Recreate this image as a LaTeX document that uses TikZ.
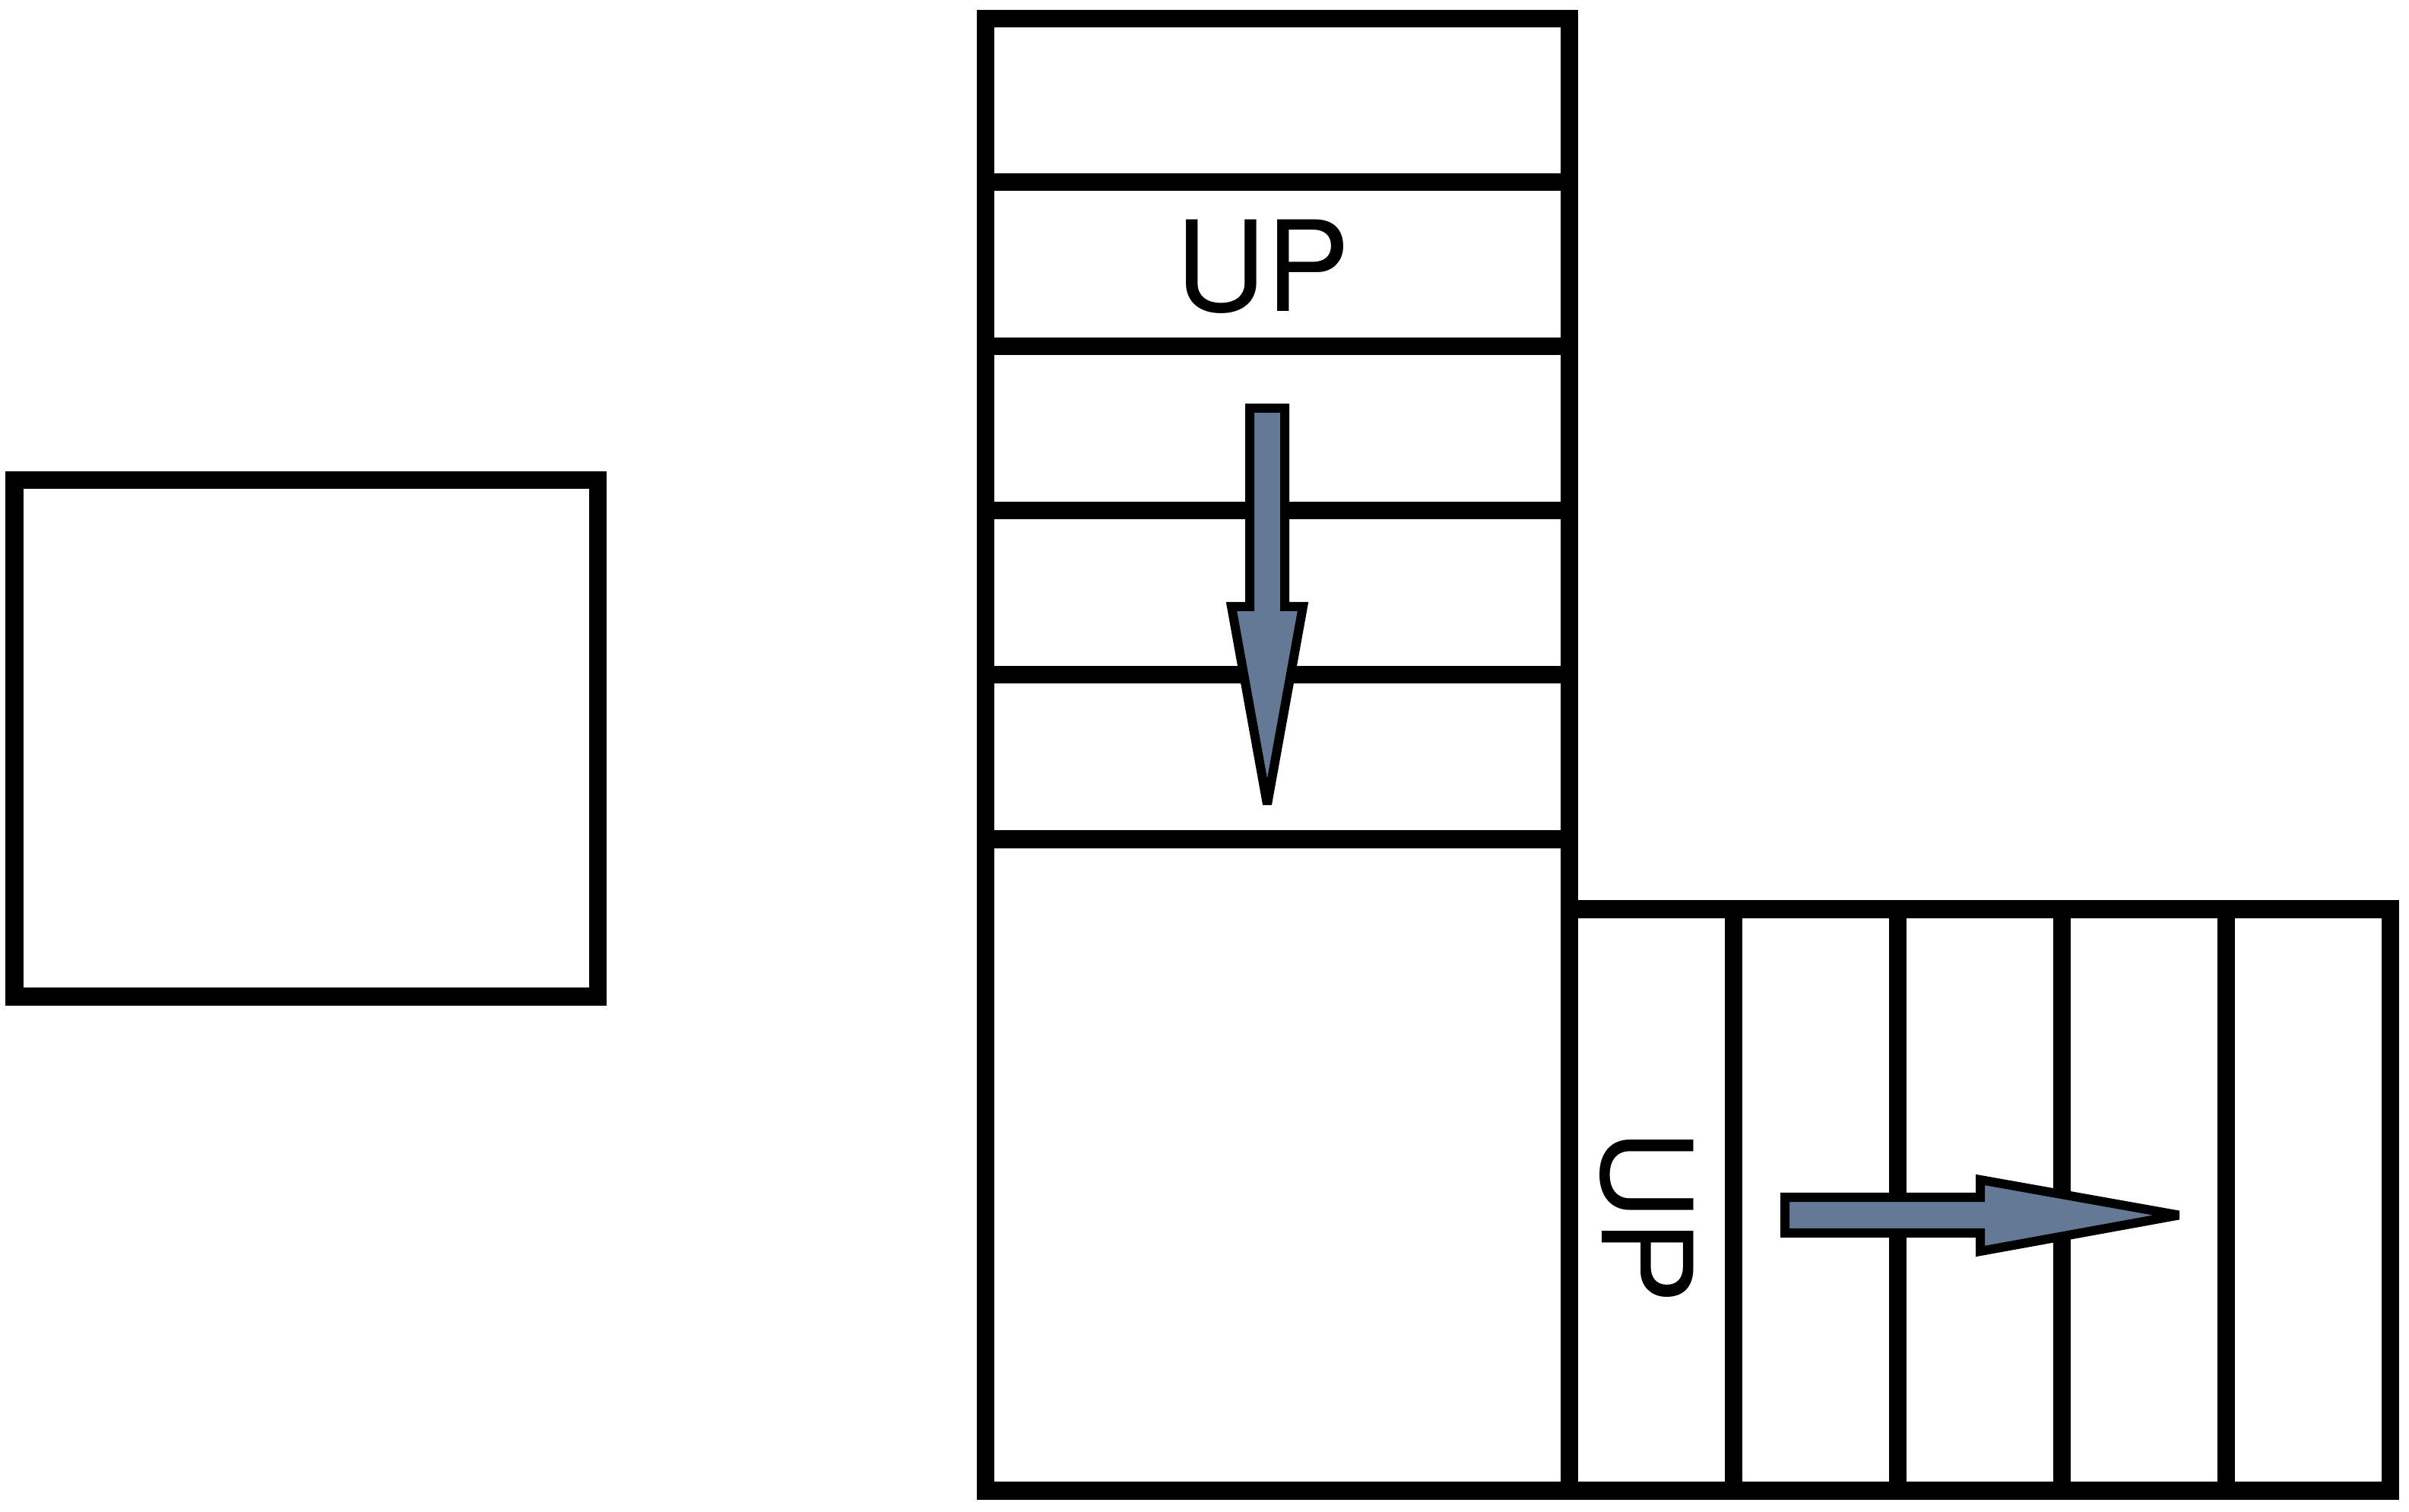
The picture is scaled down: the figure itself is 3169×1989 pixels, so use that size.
\documentclass[tikz,border=0pt]{standalone}
\usepackage{fontspec}
\setmainfont{TeX Gyre Heros}

\tikzset{
    wall/.style={draw, line width=0.23cm, miter limit=3},
    runarrow/.style={draw, line width=0.12cm, miter limit=3, fill={rgb,255:red,100;green,121;blue,150}},
    uplabel/.style={inner sep=0pt, font=\fontsize{47}{50}\selectfont}
}

\begin{document}
\begin{tikzpicture}[x=0.01cm, y=-0.01cm]
        \useasboundingbox (0, 0) rectangle (3169, 1989);

        \draw[wall] (19, 632) rectangle (786, 1311);
        \draw[wall] (1296, 25) rectangle (2064, 1961);
        \draw[wall] (2064, 1196) rectangle (3144, 1961);

        \foreach \y in {240, 456, 672, 888, 1104}
            {
                \draw[wall] (1296, \y) -- (2064, \y);
            }
        \foreach \x in {2280, 2496, 2712, 2928}
            {
                \draw[wall] (\x, 1196) -- (\x, 1961);
            }

        \node[name=up_1, uplabel] at (1661, 351) {UP};
        \node[name=up_2, uplabel, rotate=-90] at (2166, 1600) {UP};

        \draw[runarrow] (1644, 537) -- (1690, 537) -- (1690, 798) -- (1714, 798)
            -- (1667, 1058) -- (1620, 798) -- (1644, 798) -- cycle;
        \draw[runarrow] (2348, 1575) -- (2605, 1575) -- (2605, 1552) -- (2866, 1598.5)
            -- (2605, 1646) -- (2605, 1622) -- (2348, 1622) -- cycle;
    \end{tikzpicture}
\end{document}
